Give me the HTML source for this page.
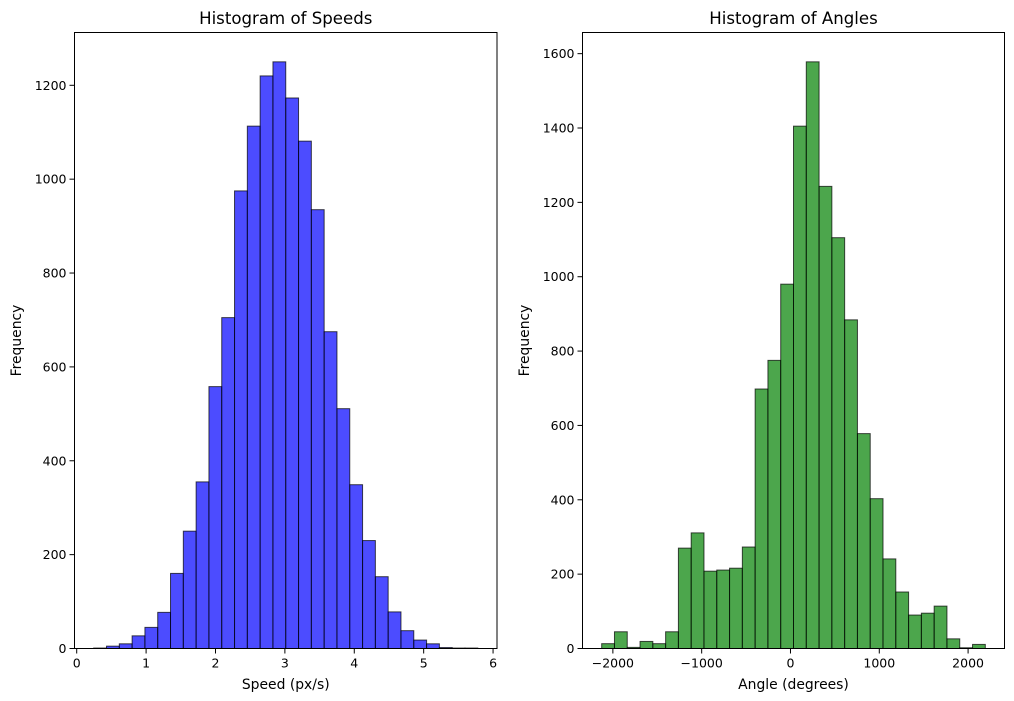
<!DOCTYPE html>
<html><head><meta charset="utf-8"><style>
html,body{margin:0;padding:0;background:#fff;}
svg{display:block;font-family:"DejaVu Sans","Liberation Sans",sans-serif;}
</style></head><body>
<svg id="fig" width="1014" height="701" viewBox="0 0 1014 701" xmlns="http://www.w3.org/2000/svg"></svg>
<script>
// Speeds histogram data
const speedCounts = [1,5,10,27,45,77,160,250,355,558,705,975,1113,1220,1250,1173,1081,935,675,511,349,230,153,78,38,18,10,2,1,1];
const speedStart = 0.245;
const speedBinWidth = 0.1845;
const speedXTicks = [0,1,2,3,4,5,6];
const speedYTicks = [0,200,400,600,800,1000,1200];
// Angles histogram data
const angleCounts = [13,45,3,19,13,45,270,311,208,211,216,273,698,775,980,1405,1578,1243,1105,884,578,403,241,152,90,95,114,26,2,11];
const angleStart = -2126;
const angleBinWidth = 144;
const angleXTicks = [-2000,-1000,0,1000,2000];
const angleYTicks = [0,200,400,600,800,1000,1200,1400,1600];

const NS = "http://www.w3.org/2000/svg";
const svg = document.getElementById('fig');
function mk(tag, attrs, parent){
  const e = document.createElementNS(NS, tag);
  for (const k in attrs) e.setAttribute(k, attrs[k]);
  (parent||svg).appendChild(e);
  return e;
}
function fmt(v){ return v < 0 ? '\u2212' + Math.abs(v) : String(v); }

function drawHist(o){
  const g = mk('g', {});
  
  
  const n = o.counts.length;
  const dmin = o.start, dmax = o.start + n*o.bw;
  const pad = (dmax-dmin)*0.05;
  const xmin = dmin - pad, xmax = dmax + pad;
  const ymax = Math.max(...o.counts)*1.05;
  const X = v => o.L + (v - xmin)/(xmax - xmin)*(o.R - o.L);
  const Y = v => o.B - v/ymax*(o.B - o.T);
  o.counts.forEach((c,i)=>{
    const x0 = X(o.start + i*o.bw), x1 = X(o.start + (i+1)*o.bw);
    const r = mk('rect', {x:x0, y:Y(c), width:x1-x0, height:o.B-Y(c), fill:o.color, 'fill-opacity':0.7, stroke:'#000', 'stroke-opacity':0.7, 'stroke-width':1}, g);
    
    
  });
  const f = mk('rect', {x:o.L, y:o.T, width:o.R-o.L, height:o.B-o.T, fill:'none', stroke:'#000', 'stroke-width':1}, g);
  
  
  o.xticks.forEach(t=>{
    const x = X(t);
    mk('line', {x1:x, x2:x, y1:o.B, y2:o.B+5, stroke:'#000'}, g);
    const tx = mk('text', {x:x, y:o.B+19, 'font-size':12.5, 'text-anchor':'middle', fill:'#000'}, g);
    tx.textContent = fmt(t);
    
    
  });
  o.yticks.forEach(t=>{
    const y = Y(t);
    mk('line', {x1:o.L-5, x2:o.L, y1:y, y2:y, stroke:'#000'}, g);
    const tx = mk('text', {x:o.L-8, y:y+4.5, 'font-size':12.5, 'text-anchor':'end', fill:'#000'}, g);
    tx.textContent = fmt(t);
    
    
  });
  const ti = mk('text', {x:(o.L+o.R)/2, y:24, 'font-size':16.6, 'text-anchor':'middle', fill:'#000'}, g);
  ti.textContent = o.title;
  
  
  const xl = mk('text', {x:(o.L+o.R)/2, y:689, 'font-size':13.9, 'text-anchor':'middle', fill:'#000'}, g);
  xl.textContent = o.xlabel;
  
  
  const yx = o.ylabelX, yy = (o.T+o.B)/2;
  const yl = mk('text', {x:yx, y:yy, 'font-size':13.9, 'text-anchor':'middle', fill:'#000', transform:'rotate(-90 '+yx+' '+yy+')'}, g);
  yl.textContent = 'Frequency';
  
  
}

drawHist({name:'speeds', counts:speedCounts, start:speedStart, bw:speedBinWidth, xticks:speedXTicks, yticks:speedYTicks,
  L:74.5, R:497, T:32.5, B:648.5, color:'#0000ff', title:'Histogram of Speeds', xlabel:'Speed (px/s)', ylabelX:21});
drawHist({name:'angles', counts:angleCounts, start:angleStart, bw:angleBinWidth, xticks:angleXTicks, yticks:angleYTicks,
  L:582.5, R:1004.5, T:32.5, B:648.5, color:'#008000', title:'Histogram of Angles', xlabel:'Angle (degrees)', ylabelX:529});
</script>
</body></html>
